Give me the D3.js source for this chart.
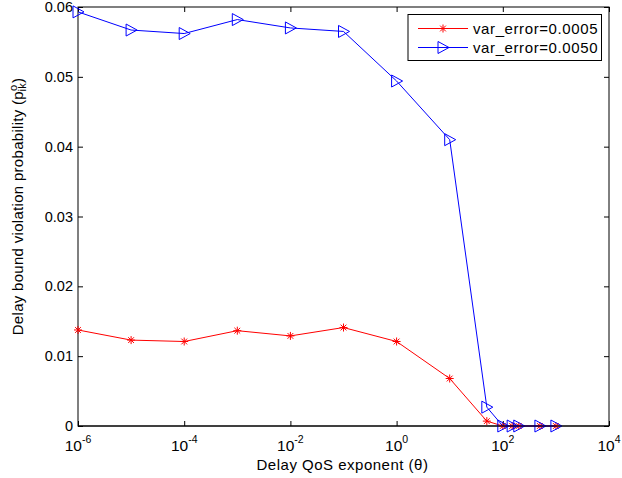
<!DOCTYPE html>
<html>
<head>
<meta charset="utf-8">
<script src="https://cdn.jsdelivr.net/npm/d3@7"></script>
<style>
  html, body { margin: 0; padding: 0; background: #fff; }
  svg { display: block; font-family: "Liberation Sans", Arial, Helvetica, sans-serif; }
</style>
</head>
<body>
<svg id="chart" width="622" height="478"></svg>
<script>
// QoS exponent values (theta)
const theta = [1e-6, 1e-5, 1e-4, 1e-3, 1e-2, 1e-1, 1, 10, 50, 100, 150, 200, 500, 1000];
// Delay bound violation probability for each error variance
const probLow = [0.01375, 0.0123, 0.0121, 0.01365, 0.0129, 0.0141, 0.0121, 0.0068, 0.0007, 0, 0, 0, 0, 0];
const probHigh = [0.0593, 0.0567, 0.0562, 0.0582, 0.0570, 0.0565, 0.0494, 0.0410, 0.0027, 0, 0, 0, 0, 0];
const seriesNames = ["var_error=0.0005", "var_error=0.0050"];
const xTickExps = [-6, -4, -2, 0, 2, 4];
const yTicks = [0, 0.01, 0.02, 0.03, 0.04, 0.05, 0.06];

const svg = d3.select("#chart");
const L = 78, R = 609, T = 7, B = 426;

const x = d3.scaleLog().domain([1e-6, 1e4]).range([L, R]);
const y = d3.scaleLinear().domain([0, 0.06]).range([B, T]);

const tickFont = 14.5;
const labelFont = 15;

// frame
svg.append("rect").attr("x", L).attr("y", T).attr("width", R - L).attr("height", B - T)
  .attr("fill", "#fff").attr("stroke", "#000").attr("stroke-width", 1);

// y axis (ticks inside, mirrored on the right)
const yAxis = d3.axisLeft(y).tickValues(yTicks).tickSizeInner(-5).tickSizeOuter(0).tickPadding(5)
  .tickFormat(d => d === 0 ? "0" : d3.format(".2f")(d));
const gy = svg.append("g").attr("transform", `translate(${L},0)`).call(yAxis);
gy.select(".domain").remove();
gy.selectAll("text").attr("font-size", tickFont).attr("fill", "#000").attr("font-family", null);

const gyR = svg.append("g").attr("transform", `translate(${R},0)`)
  .call(d3.axisRight(y).tickValues(yTicks).tickSizeInner(-5).tickSizeOuter(0).tickFormat(""));
gyR.select(".domain").remove();

// x axis with power-of-ten labels
const xTicks = xTickExps.map(e => Math.pow(10, e));
const xAxis = d3.axisBottom(x).tickValues(xTicks).tickSizeInner(-5).tickSizeOuter(0).tickFormat("");
const gx = svg.append("g").attr("transform", `translate(0,${B})`).call(xAxis);
gx.select(".domain").remove();
const gxT = svg.append("g").attr("transform", `translate(0,${T})`)
  .call(d3.axisTop(x).tickValues(xTicks).tickSizeInner(-5).tickSizeOuter(0).tickFormat(""));
gxT.select(".domain").remove();
svg.selectAll(".tick line").attr("stroke", "#000");

const xl = svg.append("g");
xTickExps.forEach((e, i) => {
  const t = xl.append("text").attr("x", x(xTicks[i])).attr("y", 451).attr("text-anchor", "middle");
  t.append("tspan").attr("font-size", 15.5).text("10");
  t.append("tspan").attr("dy", -8).attr("font-size", 10.5).text(e);
});

// axis titles
svg.append("text").attr("x", (L + R) / 2 - 1).attr("y", 470).attr("text-anchor", "middle")
  .attr("font-size", labelFont).attr("letter-spacing", 0.5).text("Delay QoS exponent (\u03b8)");

const yl = svg.append("text").attr("transform", `translate(23,${(T + B) / 2 - 10}) rotate(-90)`)
  .attr("text-anchor", "middle").attr("font-size", labelFont).attr("letter-spacing", 0.3);
yl.append("tspan").text("Delay bound violation probability (p");
yl.append("tspan").attr("font-size", 11).attr("dy", -6).text("o");
yl.append("tspan").attr("font-size", 11).attr("dx", -7).attr("dy", 9).text("ik");
yl.append("tspan").attr("dy", -3).text(")");

// series
const line = d3.line().x(d => x(d[0])).y(d => y(d[1]));
const plot = svg.append("g");

function asterisk(g, cx, cy, color) {
  const r = 4;
  const p = `M${cx - r},${cy}L${cx + r},${cy}M${cx},${cy - r}L${cx},${cy + r}` +
    `M${cx - r * 0.72},${cy - r * 0.72}L${cx + r * 0.72},${cy + r * 0.72}` +
    `M${cx - r * 0.72},${cy + r * 0.72}L${cx + r * 0.72},${cy - r * 0.72}`;
  g.append("path").attr("d", p).attr("stroke", color).attr("stroke-width", 1).attr("fill", "none");
}
function triRight(g, cx, cy, color) {
  const h = 6, w = 5;
  g.append("path").attr("d", `M${cx - w},${cy - h}L${cx + w + 1},${cy}L${cx - w},${cy + h}Z`)
    .attr("stroke", color).attr("stroke-width", 1).attr("fill", "none");
}

const dataLow = theta.map((t, i) => [t, probLow[i]]);
const dataHigh = theta.map((t, i) => [t, probHigh[i]]);

plot.append("path").datum(dataLow).attr("d", line).attr("fill", "none").attr("stroke", "#ff0000").attr("stroke-width", 1);
dataLow.forEach(d => asterisk(plot, x(d[0]), y(d[1]), "#ff0000"));
plot.append("path").datum(dataHigh).attr("d", line).attr("fill", "none").attr("stroke", "#0000ff").attr("stroke-width", 1);
dataHigh.forEach(d => triRight(plot, x(d[0]), y(d[1]), "#0000ff"));

// bottom edge drawn above the series
svg.append("line").attr("x1", L).attr("x2", R).attr("y1", B).attr("y2", B).attr("stroke", "#000");

// legend
const lg = svg.append("g");
lg.append("rect").attr("x", 408).attr("y", 14.5).attr("width", 193.5).attr("height", 46)
  .attr("fill", "#fff").attr("stroke", "#000").attr("stroke-width", 1);
const rows = [{ name: seriesNames[0], color: "#ff0000", mk: asterisk, yy: 28.5 },
              { name: seriesNames[1], color: "#0000ff", mk: triRight, yy: 47.5 }];
rows.forEach(r => {
  lg.append("line").attr("x1", 418).attr("x2", 468).attr("y1", r.yy).attr("y2", r.yy).attr("stroke", r.color);
  r.mk(lg, 443, r.yy, r.color);
  lg.append("text").attr("x", 473).attr("y", r.yy + 5).attr("font-size", labelFont)
    .attr("letter-spacing", 0.6).text(r.name);
});
</script>
</body>
</html>
